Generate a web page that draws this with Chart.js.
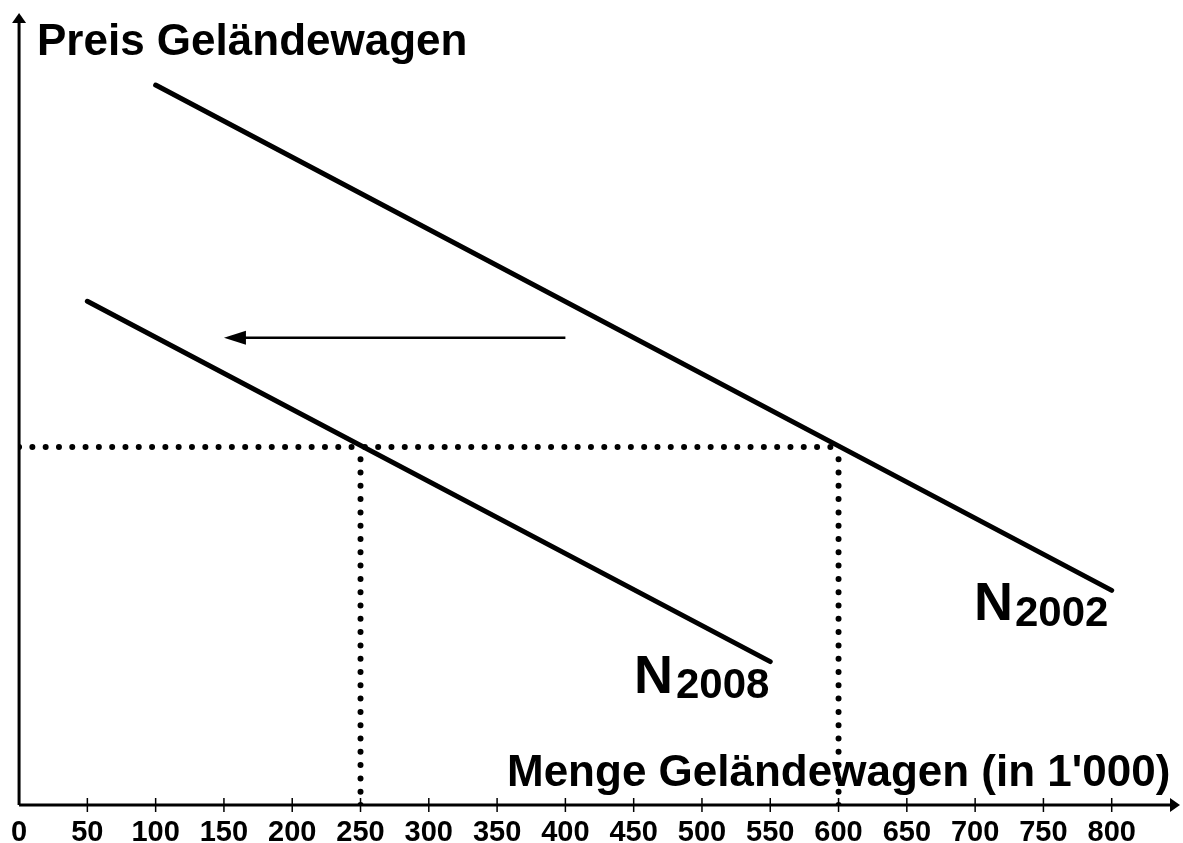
<!DOCTYPE html>
<html>
<head>
<meta charset="utf-8">
<script src="https://cdn.jsdelivr.net/npm/chart.js@4"></script>
<style>
  body { margin: 0; background: #fff; }
  canvas { display: block; }
</style>
</head>
<body>
<canvas id="myChart" width="1183" height="843"></canvas>
<script>
// quantity (in 1'000) and price (arbitrary scale 0..100)
const xTicks = [0, 50, 100, 150, 200, 250, 300, 350, 400, 450, 500, 550, 600, 650, 700, 750, 800];
const n2002Qty = [100, 800];
const n2002Price = [90.9, 27.1];
const n2008Qty = [50, 550];
const n2008Price = [63.6, 18.1];
const eqPrice = 45.2;
const eqQty2002 = 600;
const eqQty2008 = 250;
const arrowQty = [400, 150];
const arrowPrice = 59;

const FONT = '"Liberation Sans", Arial, sans-serif';

function pts(xs, ys) {
    return xs.map((x, i) => ({ x: x, y: ys[i] }));
}

const dotted = {
    borderColor: '#000',
    borderWidth: 6,
    borderDash: [0, 13.3],
    borderCapStyle: 'round',
    pointRadius: 0,
    showLine: true
};

const decor = {
    id: 'decor',
    afterDraw(chart) {
        const c = chart.ctx;
        const xs = chart.scales.x, ys = chart.scales.y;
        const area = chart.chartArea;
        c.save();
        c.fillStyle = '#000';
        c.strokeStyle = '#000';

        // axes
        c.lineWidth = 3;
        c.beginPath();
        c.moveTo(area.left, area.bottom);
        c.lineTo(area.left, area.top + 7);
        c.moveTo(area.left, area.bottom);
        c.lineTo(area.right - 7, area.bottom);
        c.stroke();
        // arrow heads
        c.beginPath();
        c.moveTo(area.left, area.top);
        c.lineTo(area.left - 7, area.top + 10);
        c.lineTo(area.left + 7, area.top + 10);
        c.closePath();
        c.fill();
        c.beginPath();
        c.moveTo(area.right, area.bottom);
        c.lineTo(area.right - 10, area.bottom - 7);
        c.lineTo(area.right - 10, area.bottom + 7);
        c.closePath();
        c.fill();

        // tick marks crossing the x axis
        c.lineWidth = 1.5;
        xTicks.forEach(v => {
            if (v === 0) return;
            const px = xs.getPixelForValue(v);
            c.beginPath();
            c.moveTo(px, area.bottom - 7);
            c.lineTo(px, area.bottom + 7);
            c.stroke();
        });

        // shift arrow
        const ax0 = xs.getPixelForValue(arrowQty[0]);
        const ax1 = xs.getPixelForValue(arrowQty[1]);
        const ay = ys.getPixelForValue(arrowPrice);
        c.lineWidth = 2.5;
        c.beginPath();
        c.moveTo(ax0, ay);
        c.lineTo(ax1 + 20, ay);
        c.stroke();
        c.beginPath();
        c.moveTo(ax1, ay);
        c.lineTo(ax1 + 22, ay - 7);
        c.lineTo(ax1 + 22, ay + 7);
        c.closePath();
        c.fill();

        // texts
        c.textAlign = 'left';
        c.textBaseline = 'alphabetic';
        c.font = 'bold 44px ' + FONT;
        c.fillText('Preis Geländewagen', 37, 55);
        c.fillText("Menge Geländewagen (in 1'000)", 507, 786);

        c.font = 'bold 54px ' + FONT;
        c.fillText('N', 974, 620);
        c.fillText('N', 634, 693);
        c.font = 'bold 42px ' + FONT;
        c.fillText('2002', 1015, 626);
        c.fillText('2008', 676, 698);
        c.restore();
    }
};

const ctx = document.getElementById('myChart').getContext('2d');
const myChart = new Chart(ctx, {
    type: 'scatter',
    data: {
        datasets: [
            {
                label: 'N2002',
                data: pts(n2002Qty, n2002Price),
                borderColor: '#000',
                borderWidth: 5,
                borderCapStyle: 'round',
                pointRadius: 0,
                showLine: true
            },
            {
                label: 'N2008',
                data: pts(n2008Qty, n2008Price),
                borderColor: '#000',
                borderWidth: 5,
                borderCapStyle: 'round',
                pointRadius: 0,
                showLine: true
            },
            Object.assign({ label: 'price', data: pts([0, eqQty2002], [eqPrice, eqPrice]) }, dotted),
            Object.assign({ label: 'q2008', data: pts([eqQty2008, eqQty2008], [0, eqPrice]) }, dotted),
            Object.assign({ label: 'q2002', data: pts([eqQty2002, eqQty2002], [0, eqPrice]) }, dotted)
        ]
    },
    options: {
        responsive: false,
        animation: false,
        layout: { padding: { left: 18, right: 3, top: 13, bottom: 0 } },
        plugins: {
            legend: { display: false },
            tooltip: { enabled: false }
        },
        scales: {
            x: {
                type: 'linear',
                min: 0,
                max: 850,
                grid: { display: false, drawTicks: false },
                border: { display: false },
                afterBuildTicks: s => { s.ticks = xTicks.map(v => ({ value: v })); },
                afterFit: s => { s.height = 38; },
                ticks: {
                    color: '#000',
                    font: { family: FONT, size: 29, weight: 'bold' },
                    padding: 11,
                    maxRotation: 0,
                    autoSkip: false
                }
            },
            y: {
                type: 'linear',
                min: 0,
                max: 100,
                display: false
            }
        }
    },
    plugins: [decor]
});
</script>
</body>
</html>
